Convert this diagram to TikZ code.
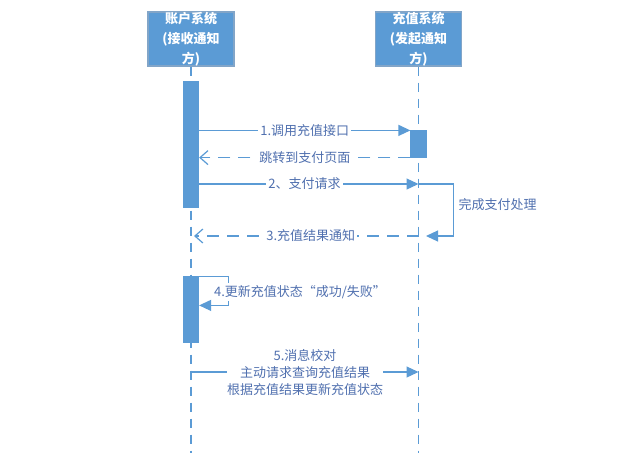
\documentclass[tikz,border=0pt]{standalone}
\usepackage{fontspec}
\setmainfont{Noto Sans CJK SC}
\usetikzlibrary{arrows.meta}
\definecolor{lineblue}{RGB}{91,155,213}
\definecolor{boxedge}{RGB}{130,165,200}
\definecolor{textblue}{RGB}{80,112,175}

\begin{document}
\begin{tikzpicture}[x=1pt, y=-1pt, font=\fontsize{13}{17}\selectfont, line width=1.2pt]

\tikzset{
  system/.style={draw=boxedge, fill=lineblue, text=white, minimum width=86pt, minimum height=54pt, align=center, inner sep=0pt, font=\fontsize{13}{20}\selectfont\bfseries},
  bar/.style={draw=lineblue, fill=lineblue, minimum width=15pt, inner sep=0pt},
  life/.style={lineblue, dash pattern=on 9pt off 7pt},
  msg/.style={lineblue, -{Triangle[length=12pt,width=11pt]}},
  reply/.style={lineblue, dash pattern=on 12pt off 8pt, -{Straight Barb[length=8pt,width=14pt]}},
  lbl/.style={text=textblue, fill=white, inner sep=2pt, align=center}
}

\useasboundingbox (0,0) rectangle (644,461);

% Systems
\node[system] (acct) at (191,39) {账户系统\\(接收通知\\方)};
\node[system] (chg) at (418.5,39) {充值系统\\(发起通知\\方)};

% Lifelines
\coordinate (acctend) at (191,453);
\coordinate (chgend) at (418.5,453);
\draw[life] (acct.south) -- (acctend);
\draw[life] (chg.south) -- (chgend);

% Activations
\node[bar, minimum height=125pt] (act1) at (191,144.5) {};
\node[bar, minimum height=65pt] (act2) at (191,309.5) {};
\node[bar, minimum height=26pt] (chgact) at (418.5,144) {};

% 1. call
\draw[msg] (act1.east |- chgact.north west) -- node[lbl] {1.调用充值接口} (chgact.north west);
\draw[reply] (chgact.south west) -- node[lbl] {跳转到支付页面} (act1.east |- chgact.south west);

% 2. pay
\coordinate (pay) at (418.5,184);
\coordinate (paid) at (426,236);
\coordinate (notify) at (418.5,236);
\coordinate (notified) at (194,236);
\draw[msg] (act1.east |- pay) -- node[lbl, pos=0.48] {2、支付请求} (pay);
\draw[msg] (pay) -- ++(35,0) |- (paid);
\node[lbl, anchor=west] (done) at (456,205) {完成支付处理};

% 3. notify
\draw[reply] (notify) -- node[lbl, pos=0.48] {3.充值结果通知} (notified);

% 4. update
\draw[msg] (act2.north east) -- ++(29,0) -- ++(0,29) -- ++(-29,0);
\node[lbl] (upd) at (300,292) {4.更新充值状态“成功/失败”};

% 5. check
\coordinate (chk) at (191,372);
\coordinate (chked) at (418.5,372);
\draw[msg] (chk) -- (chked);
\node[lbl, inner sep=0pt] (chklbl) at (305,372) {5.消息校对\\主动请求查询充值结果\\根据充值结果更新充值状态};

\end{tikzpicture}
\end{document}
